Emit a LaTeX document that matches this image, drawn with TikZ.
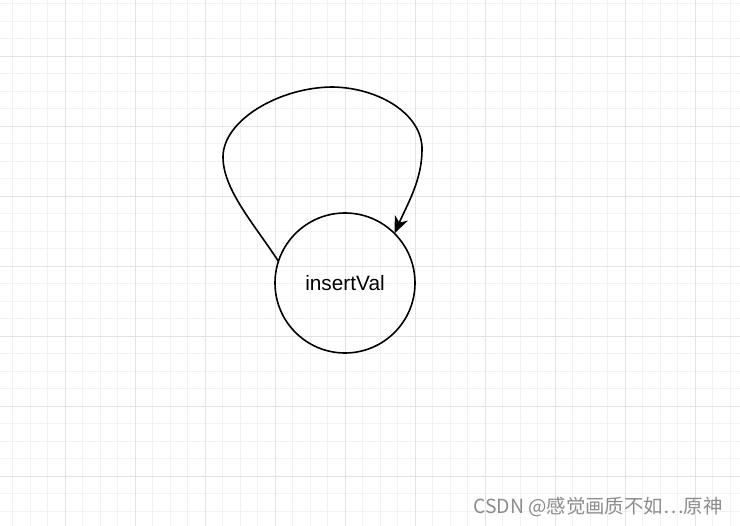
\documentclass[tikz,border=0pt]{standalone}
\usepackage{fontspec}
\setmainfont{Liberation Sans}
\newfontfamily\cjkfont{Noto Sans CJK SC}
\usepackage{xcolor}
\usetikzlibrary{positioning, arrows.meta}

\definecolor{gridminor}{HTML}{F2F2F2}
\definecolor{gridmajor}{HTML}{E3E3E3}
\definecolor{markgray}{HTML}{8C8C8C}

\begin{document}
\begin{tikzpicture}[x=1pt, y=-1pt,
    state/.style={circle, draw, line width=1.6pt, minimum size=140pt, inner sep=0pt, outer sep=0pt, font=\fontsize{20.8}{24}\selectfont},
    loop/.style={line width=1.6pt, -{Stealth[length=17pt, width=14pt, inset=5pt]}}]
    \useasboundingbox (0,0) rectangle (740,526);
    \fill[white] (0,0) rectangle (740,526);

    % Grid lines
    \foreach \i in {0,...,42} {
        \draw[gridminor, line width=0.8pt] (12.5+17.5*\i,0) -- (12.5+17.5*\i,526);
    }
    \foreach \j in {0,...,30} {
        \draw[gridminor, line width=0.8pt] (0,3.5+17.5*\j) -- (740,3.5+17.5*\j);
    }
    \foreach \i in {0,...,9} {
        \draw[gridmajor, line width=0.8pt] (65+70*\i,0) -- (65+70*\i,526);
    }
    \foreach \j in {0,...,6} {
        \draw[gridmajor, line width=0.8pt] (0,56+70*\j) -- (740,56+70*\j);
    }

    % State
    \node[state] (val) at (345,283) {insertVal};

    % Self loop
    \draw[loop] (val.162) .. controls (255,225) and (223,190) .. (223,157)
        .. controls (223,120) and (280,87) .. (333,87)
        .. controls (380,88) and (423,115) .. (422,150)
        .. controls (422,180) and (407,205) .. (val.45);

    % Watermark
    \node[anchor=east, markgray, font=\cjkfont\fontsize{19.4}{21}\selectfont] (mark) at (726,507) {CSDN @感觉画质不如⋯原神};
\end{tikzpicture}
\end{document}
